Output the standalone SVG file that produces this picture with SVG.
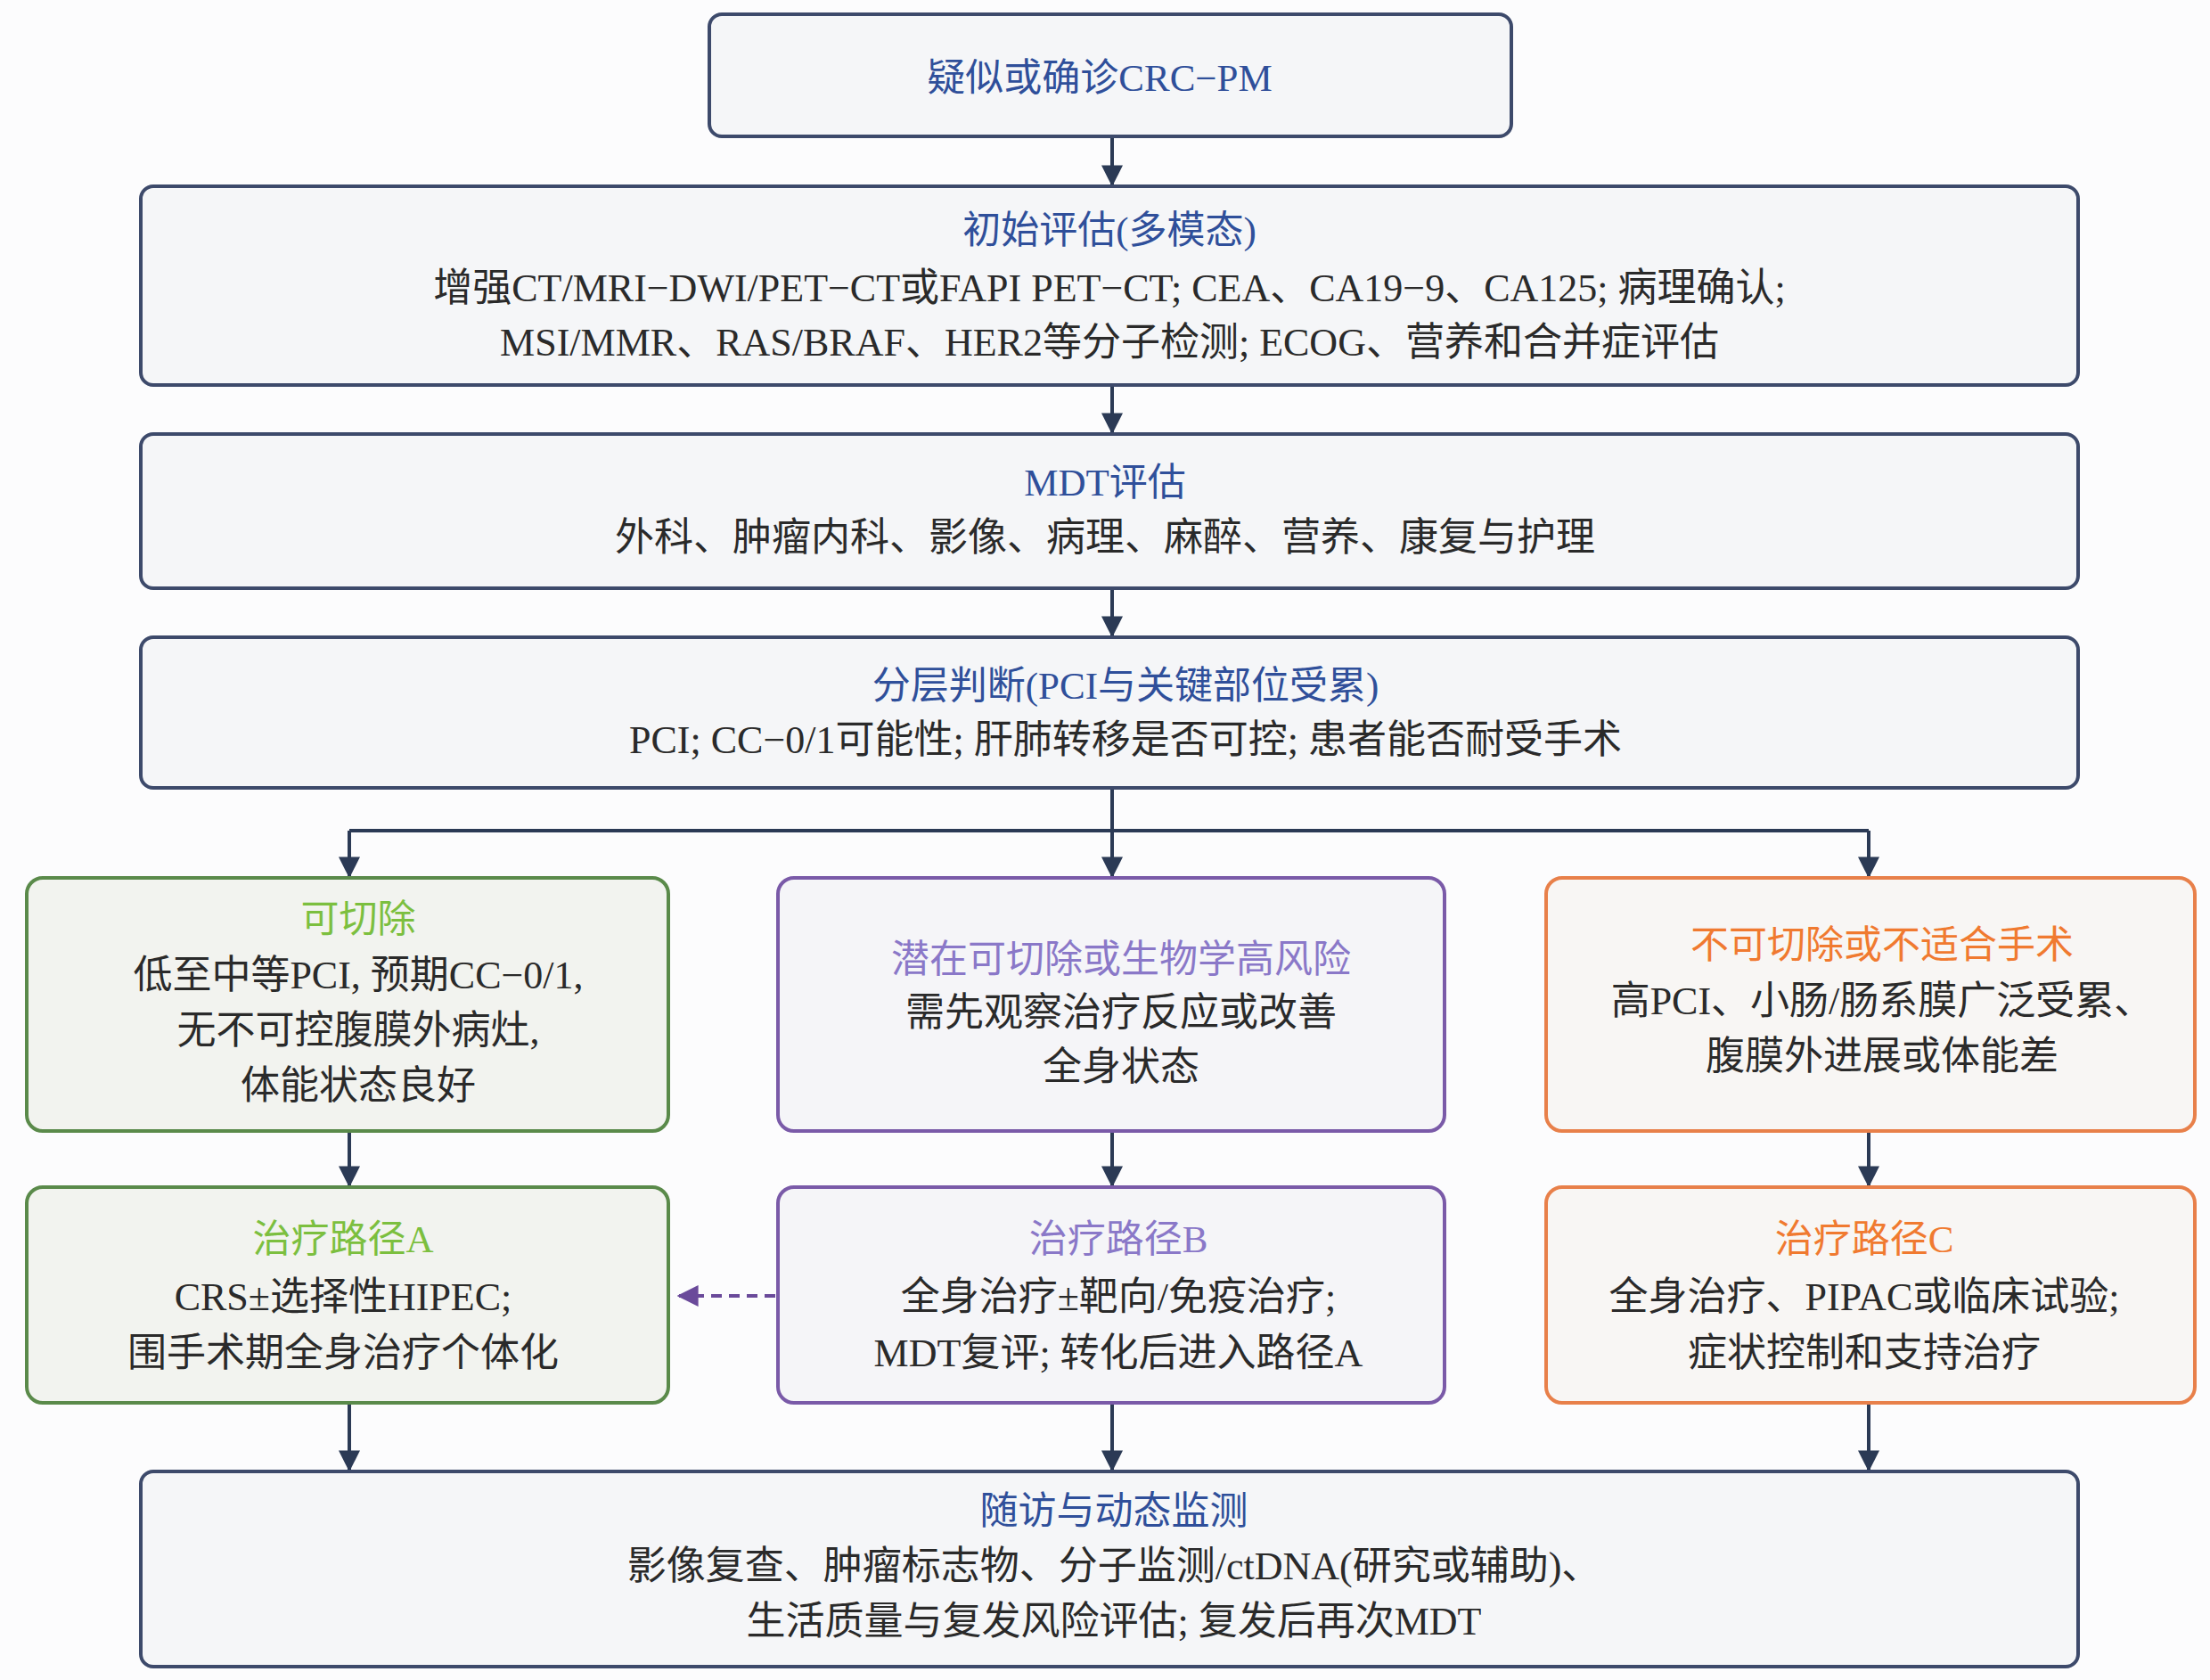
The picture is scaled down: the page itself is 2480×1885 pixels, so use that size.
<svg xmlns="http://www.w3.org/2000/svg" width="2480" height="1885" viewBox="0 0 2480 1885">
<defs>
<marker id="ah" viewBox="0 0 10 10" refX="9" refY="5" markerWidth="6" markerHeight="6" orient="auto"><path d="M0,0 L10,5 L0,10 z" fill="#2b3a55"/></marker>
<marker id="ahp" viewBox="0 0 10 10" refX="9" refY="5" markerWidth="6" markerHeight="6" orient="auto"><path d="M0,0 L10,5 L0,10 z" fill="#6a4a9a"/></marker>
<style>
text{font-family:"Liberation Serif","Noto Sans CJK SC",serif;font-size:44px;text-anchor:middle;dominant-baseline:central;fill:#2a2a2a}
.t{fill:#2f4f9a;font-size:43px}
.n{fill:#f5f6f8;stroke:#3d4a6b;stroke-width:4}
.g{fill:#f2f3ef;stroke:#5a8a4a;stroke-width:4}
.p{fill:#f5f5f8;stroke:#7a5aa8;stroke-width:4}
.o{fill:#f8f6f4;stroke:#e8804a;stroke-width:4}
.tg{fill:#7cbf3f;font-size:43px}.tp{fill:#8a78c8;font-size:43px}.to{fill:#f07a30;font-size:43px}
.c{stroke:#2b3a55;stroke-width:4;fill:none}
</style>
</defs>
<rect width="2480" height="1885" fill="#fcfcfd"/>
<g id="connectors">
<path class="c" d="M1248,153 V207" marker-end="url(#ah)"/>
<path class="c" d="M1248,433 V485" marker-end="url(#ah)"/>
<path class="c" d="M1248,661 V713" marker-end="url(#ah)"/>
<path class="c" d="M1248,885 V983"  marker-end="url(#ah)"/>
<path class="c" d="M392,932 H2097"/>
<path class="c" d="M392,932 V983" marker-end="url(#ah)"/>
<path class="c" d="M2097,932 V983" marker-end="url(#ah)"/>
<path class="c" d="M392,1270 V1330" marker-end="url(#ah)"/>
<path class="c" d="M1248,1270 V1330" marker-end="url(#ah)"/>
<path class="c" d="M2097,1270 V1330" marker-end="url(#ah)"/>
<path class="c" d="M392,1575 V1649" marker-end="url(#ah)"/>
<path class="c" d="M1248,1575 V1649" marker-end="url(#ah)"/>
<path class="c" d="M2097,1575 V1649" marker-end="url(#ah)"/>
<path d="M870,1454 H762" stroke="#6a4a9a" stroke-width="4" stroke-dasharray="12,8" fill="none" marker-end="url(#ahp)"/>
</g>
<g id="n1"><rect class="n" x="796" y="16" width="900" height="137" rx="14"/><text class="t" x="1234" y="87">疑似或确诊CRC−PM</text></g>
<g id="n2"><rect class="n" x="158" y="209" width="2174" height="223" rx="14"/><text class="t" x="1245" y="258">初始评估(多模态)</text><text x="1245" y="323">增强CT/MRI−DWI/PET−CT或FAPI PET−CT; CEA、CA19−9、CA125; 病理确认;</text><text x="1245" y="384">MSI/MMR、RAS/BRAF、HER2等分子检测; ECOG、营养和合并症评估</text></g>
<g id="n3"><rect class="n" x="158" y="487" width="2174" height="173" rx="14"/><text class="t" x="1240" y="541">MDT评估</text><text x="1240" y="603">外科、肿瘤内科、影像、病理、麻醉、营养、康复与护理</text></g>
<g id="n4"><rect class="n" x="158" y="715" width="2174" height="169" rx="14"/><text class="t" x="1263" y="769">分层判断(PCI与关键部位受累)</text><text x="1263" y="830">PCI; CC−0/1可能性; 肝肺转移是否可控; 患者能否耐受手术</text></g>
<g id="n5"><rect class="g" x="30" y="985" width="720" height="284" rx="18"/><text class="tg" x="402" y="1031">可切除</text><text x="402" y="1094">低至中等PCI, 预期CC−0/1,</text><text x="402" y="1156">无不可控腹膜外病灶,</text><text x="402" y="1218">体能状态良好</text></g>
<g id="n6"><rect class="p" x="873" y="985" width="748" height="284" rx="18"/><text class="tp" x="1258" y="1076">潜在可切除或生物学高风险</text><text x="1258" y="1136">需先观察治疗反应或改善</text><text x="1258" y="1197">全身状态</text></g>
<g id="n7"><rect class="o" x="1735" y="985" width="728" height="284" rx="18"/><text class="to" x="2112" y="1060">不可切除或不适合手术</text><text x="2112" y="1123">高PCI、小肠/肠系膜广泛受累、</text><text x="2112" y="1185">腹膜外进展或体能差</text></g>
<g id="n8"><rect class="g" x="30" y="1332" width="720" height="242" rx="18"/><text class="tg" x="385" y="1390">治疗路径A</text><text x="385" y="1455">CRS±选择性HIPEC;</text><text x="385" y="1518">围手术期全身治疗个体化</text></g>
<g id="n9"><rect class="p" x="873" y="1332" width="748" height="242" rx="18"/><text class="tp" x="1255" y="1390">治疗路径B</text><text x="1255" y="1455">全身治疗±靶向/免疫治疗;</text><text x="1255" y="1518">MDT复评; 转化后进入路径A</text></g>
<g id="n10"><rect class="o" x="1735" y="1332" width="728" height="242" rx="18"/><text class="to" x="2092" y="1390">治疗路径C</text><text x="2092" y="1455">全身治疗、PIPAC或临床试验;</text><text x="2092" y="1518">症状控制和支持治疗</text></g>
<g id="n11"><rect class="n" x="158" y="1651" width="2174" height="219" rx="14"/><text class="t" x="1250" y="1695">随访与动态监测</text><text x="1250" y="1757">影像复查、肿瘤标志物、分子监测/ctDNA(研究或辅助)、</text><text x="1250" y="1819">生活质量与复发风险评估; 复发后再次MDT</text></g>
</svg>
